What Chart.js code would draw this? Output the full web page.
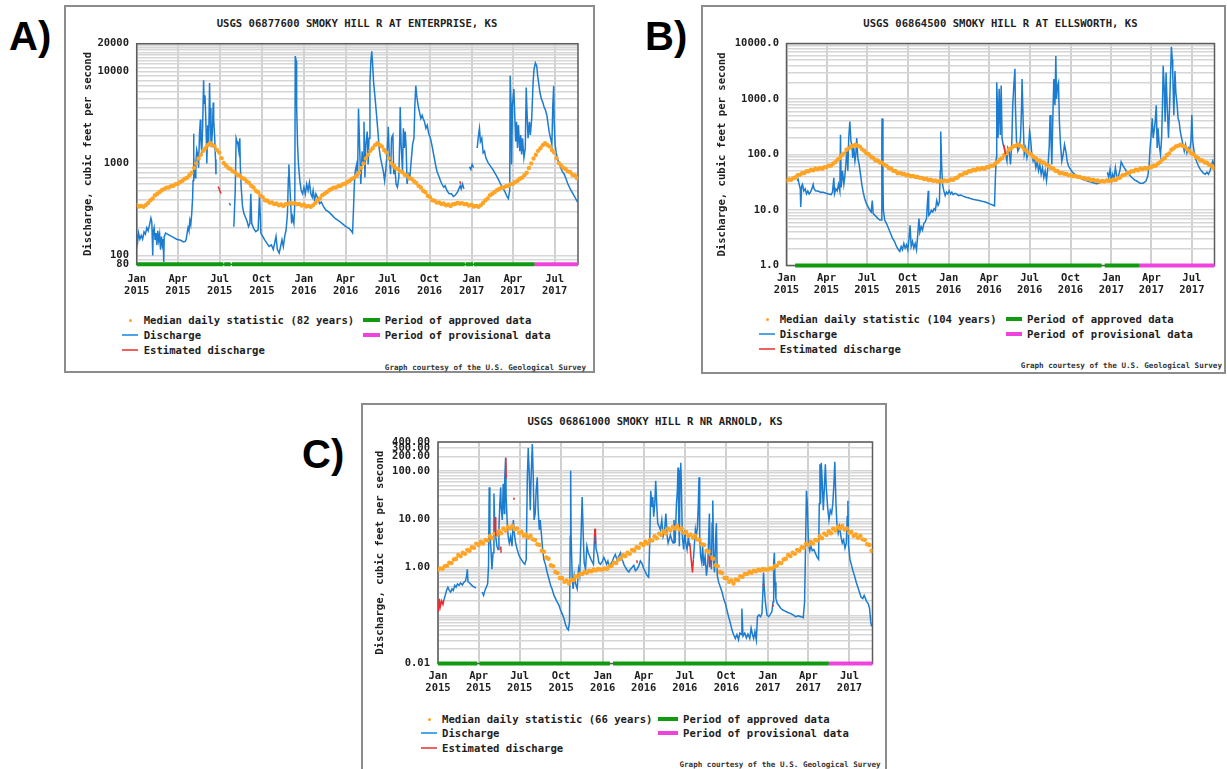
<!DOCTYPE html>
<html>
<head>
<meta charset="utf-8">
<title>Smoky Hill River discharge</title>
<script src="https://cdn.jsdelivr.net/npm/chart.js@4.4.1/dist/chart.umd.min.js"></script>
<style>
  body { margin: 0; background: #fff; }
  #page { position: relative; width: 1227px; height: 769px; overflow: hidden; background: #fff; }
  .box { position: absolute; border: 2px solid #8c8c8c; box-sizing: border-box; }
  .tag { position: absolute; font: bold 40px 'Liberation Sans', Arial, sans-serif; line-height: 40px; color: #000; }
  .txt { position: absolute; font: bold 10.6px 'DejaVu Sans Mono', monospace; line-height: 12px; white-space: nowrap; color: #1e1e1e; }
  .credit { position: absolute; font: bold 7.6px 'DejaVu Sans Mono', monospace; line-height: 9px; white-space: nowrap; color: #333; }
  .mark { position: absolute; }
  canvas { position: absolute; }
</style>
</head>
<body>
<div id="page"></div>
<script>
'use strict'

// x values are days counted from 1 Jan 2015
const quarterDays = [0, 90, 181, 273, 365, 456, 547, 639, 731, 821, 912];
const quarterMonths = ['Jan', 'Apr', 'Jul', 'Oct', 'Jan', 'Apr', 'Jul', 'Oct', 'Jan', 'Apr', 'Jul'];
const quarterYears = ['2015', '2015', '2015', '2015', '2016', '2016', '2016', '2016', '2017', '2017', '2017'];
const yearStartDays = [0, 365, 731];
const lastDay = 963;
const medianStepDays = 5;

// ---- 06877600 Smoky Hill R at Enterprise ----
const enterpriseTicks = [80, 100, 1000, 10000, 20000];
const enterpriseTickLabels = ['80', '100', '1000', '10000', '20000'];
const enterpriseFlow = [[0,170],[2,140],[4,175],[7,150],[10,165],[13,150],[16,180],[19,170],[22,200],[25,185],[28,215],[31,255],[33,230],[34,150],[35,100],[36,180],[38,200],[40,150],[42,175],[44,130],[46,185],[48,145],[50,170],[52,115],[54,160],[56,130],[58,150],[59,85],[60,160],[63,175],[67,170],[72,165],[77,160],[82,155],[87,150],[92,148],[97,145],[102,140],[106,142],[108,150],[110,175],[112,200],[114,185],[116,240],[118,215],[120,280],[122,420],[123,650],[124,2100],[125,1200],[126,800],[128,700],[129,1000],[131,1400],[133,1250],[135,900],[137,2100],[139,3000],[140,1800],[142,1300],[144,2600],[146,8000],[147,4500],[149,5500],[151,2800],[152,1800],[153,1000],[155,2600],[157,1600],[159,7500],[160,4000],[162,1800],[163,1500],[165,2200],[167,4600],[168,3000],[170,2000],[172,1100],[173,760],[174,null],
  [202,370],[205,350],[206,null],
  [212,205],[215,507],[217,1880],[219,1730],[221,1600],[223,1356],[225,1880],[226,975],[228,550],[231,336],[234,285],[237,263],[241,233],[244,205],[247,223],[249,467],[251,223],[255,197],[260,181],[265,189],[268,467],[271,174],[275,161],[279,148],[284,136],[289,125],[294,130],[298,116],[301,136],[304,161],[307,116],[311,106],[314,125],[317,148],[320,125],[323,161],[326,189],[329,285],[331,703],[332,975],[335,467],[338,223],[340,263],[343,223],[345,365],[346,14700],[348,13000],[349,4280],[351,1600],[353,975],[356,648],[359,507],[362,467],[365,550],[368,467],[371,597],[374,507],[377,620],[380,467],[383,430],[385,507],[388,396],[391,467],[394,430],[399,365],[403,380],[408,336],[413,310],[419,297],[426,274],[433,252],[441,238],[448,223],[455,208],[463,197],[468,186],[471,176],[473,310],[475,597],[477,828],[480,975],[482,703],[484,3940],[487,1250],[489,597],[492,1356],[494,975],[496,2840],[498,703],[500,1600],[503,2220],[505,975],[507,1880],[509,7600],[511,13000],[513,16500],[515,11500],[517,7600],[521,4640],[524,3080],[527,2040],[529,1470],[532,1150],[535,975],[538,828],[541,648],[544,899],[547,1470],[549,2500],[551,1250],[554,763],[556,1880],[559,2040],[561,763],[563,975],[566,597],[569,550],[572,703],[574,1880],[575,4100],[577,1600],[580,828],[582,2410],[584,1470],[586,2220],[588,1470],[590,597],[593,763],[596,703],[599,1060],[602,1600],[605,1880],[607,4280],[609,7000],[611,5470],[614,4280],[617,3640],[620,3080],[623,3340],[625,3080],[628,2840],[631,2410],[634,2610],[637,2130],[641,1880],[644,1600],[648,1250],[652,975],[655,828],[659,733],[663,648],[666,597],[670,550],[673,573],[677,507],[682,467],[687,467],[691,437],[695,450],[700,487],[703,528],[706,573],[708,528],[711,597],[714,528],[716,null],
  [726,920],[729,860],[732,975],[735,899],[737,null],
  [743,1470],[746,2040],[748,2410],[750,1730],[753,1880],[756,1300],[759,1356],[762,1150],[767,1015],[772,935],[777,862],[783,763],[789,675],[794,597],[800,528],[804,487],[808,437],[811,413],[814,507],[815,8950],[817,4280],[818,975],[820,4280],[823,6440],[825,3340],[827,1730],[829,2840],[831,1470],[833,2610],[836,1356],[838,2040],[840,1250],[842,1880],[845,1150],[848,1470],[850,6700],[852,3340],[854,1880],[857,2840],[859,2040],[862,3080],[865,7600],[867,10500],[870,12400],[873,11500],[875,8950],[877,7600],[880,5900],[883,5040],[886,4640],[889,4100],[892,3800],[895,3340],[897,2840],[900,2220],[903,1880],[906,1600],[908,4280],[910,7000],[911,2840],[913,1600],[916,1250],[920,1060],[924,935],[928,828],[933,763],[937,675],[941,597],[946,528],[950,487],[954,450],[958,413],[962,380]];
const enterpriseEstimated = [[178,560],[181,510],[184,470],[185,null],[705,640],[707,600]];
// median daily statistic, every 5th day of the year
const enterpriseMedian = [355,340,345,338,352,372,398,415,452,468,488,510,528,545,548,566,572,596,600,628,648,680,700,745,790,890,1000,1130,1240,1370,1460,1580,1660,1590,1530,1400,1310,1140,1010,950,890,870,820,800,750,740,690,680,640,615,570,548,505,485,445,430,398,392,375,376,362,366,350,358,345,360,362,372,366,370,360,362,348];
const enterpriseApproved = [[0,189],[191,205],[208,716],[718,734],[736,868]];
const enterpriseProvisional = [[868,963]];

// ---- 06864500 Smoky Hill R at Ellsworth ----
const ellsworthTicks = [1, 10, 100, 1000, 10000];
const ellsworthTickLabels = ['1.0', '10.0', '100.0', '1000.0', '10000.0'];
const ellsworthFlow = [[24,33.6],[26,36],[28.5,29],[31,24],[32,11.3],[34,27],[36,29],[39,22],[42,24],[45,19.5],[48,22],[51,19.5],[54,21],[57,24],[60,29],[62,24],[66,22],[71,22],[76.5,21],[82.5,21],[88.5,20],[94.5,19.5],[100.5,19],[103.5,21],[106.5,38],[108,19.5],[111,24],[114,22],[117,29],[120,22],[121.5,226],[123,25.6],[126,51],[129,29],[131,38.5],[133.5,66],[136,131],[138,51],[140,198],[142.5,391],[145,173],[147,151],[149,87],[151.5,131],[154,76],[156,100],[158,198],[160.5,87],[163.5,66],[166.5,44],[169.5,29],[172.5,21],[176,16],[180,12.9],[184,11.3],[187.5,9.9],[190.5,9.2],[193,14.8],[195,8.6],[199,8],[202.5,7.5],[206,7],[210,6.6],[213,6.6],[214.5,198],[215,448],[217,38],[218,9.9],[221,6.6],[225,5.7],[229.5,4.7],[234,3.8],[238.5,3.1],[243,2.7],[247.5,2.2],[252,1.92],[255,1.8],[258,2.2],[261,1.92],[264,2.5],[267,2.06],[270,2.36],[273,1.92],[276,3.3],[278,5.3],[280.5,2.2],[283.5,2.7],[286.5,2.06],[289.5,2.5],[292.5,1.92],[295.5,3.8],[298,7],[300,4],[303,5],[306,4.35],[309,5.7],[312,6.1],[315,7],[317,12.9],[319,22.3],[320,8],[323,8.6],[326,9.9],[329,9.2],[332,10.6],[335,9.9],[338,14.8],[341,12.1],[344,13.9],[346,51],[347,260],[349,66],[351,29],[354,22.3],[357,18.2],[360,21],[363,19.5],[366,22.3],[369,19.5],[372,21],[375,19],[379,20],[382.5,19.5],[387,18.2],[391.5,18.6],[397.5,17.8],[403.5,17],[409.5,16.6],[415.5,15.9],[421.5,15.5],[427.5,15.2],[433.5,14.8],[439.5,14.4],[445.5,14.1],[451.5,13.5],[457.5,12.9],[463.5,12.3],[468,11.9],[470,38.5],[472,87],[473,2000],[475,590],[476,198],[478.5,1525],[481,226],[483,1750],[485,198],[487.5,151],[490,131],[493,100],[496,76],[498,131],[501,115],[504,66],[507,173],[509,773],[511.5,1750],[514,3500],[515,773],[517.5,173],[520.5,115],[523.5,131],[526.5,198],[529,773],[530,2300],[532.5,391],[535,100],[538,131],[541,87],[544,115],[547,260],[549,198],[552,100],[555,76],[558,87],[561,58],[564,76],[567,51],[570,66],[573,44],[576,58],[579,38.5],[582,51],[585,33.6],[588,58],[591,131],[593,513],[595,198],[597,66],[599,391],[601.5,2300],[604,773],[606,5960],[607.5,1000],[610,1750],[612,2000],[614,391],[616.5,151],[619.5,76],[622.5,100],[625.5,151],[628.5,115],[631.5,76],[634.5,62],[639,54],[643.5,48],[649.5,43],[655.5,39.5],[661.5,37.5],[667.5,35.5],[675,33.6],[682.5,32.3],[690,31],[697.5,29.7],[705,30.5],[708,null],
  [722,48],[725,38.5],[728,54],[731,33.6],[734,44],[737,36],[740,58],[743,41],[746,38.5],[750,51],[753,74],[756,66],[760.5,57],[765,50],[771,43],[777,38.5],[783,35],[789,33],[795,30.5],[802.5,30.5],[808.5,33],[813,41],[816,66],[818,131],[820.5,226],[823,448],[825,198],[827,260],[829.5,391],[832,773],[834,131],[836,297],[838.5,151],[841.5,100],[844,198],[846,773],[847.5,3960],[850,1525],[852,391],[854,3010],[856.5,773],[859.5,198],[862,773],[864,2630],[866,8700],[868,5200],[869,3010],[871.5,513],[874,3200],[876,1330],[879,773],[881,448],[883.5,391],[886,260],[889,198],[892,151],[895,115],[898,151],[901,107],[904,131],[907,115],[910,173],[912,513],[914,173],[917,115],[920,87],[923,74],[927,62],[931,54],[934.5,50],[938,46],[942,44],[946,48],[949.5,44],[953,51],[956,62],[959,76],[962,66]];
const ellsworthEstimated = [[489,150],[491,120],[493,100]];
const ellsworthMedian = [33.6,35.5,35,37.5,38.5,42.5,43,46,46.5,50,50,53,52,56,54,57,55.5,59,59,63,63,69,73,81,86,98,105,122,129,140,143,150,144,139,124,117,105,101,91,87,79,78,72,71,65,63,57,56,51,50.5,46,46.5,45,44.5,42,42.5,40.5,41,39.5,39.5,38,38,36,36.5,34.5,35,33.5,34,32.5,33.5,32.5,34,33.5];
const ellsworthApproved = [[19.5,709],[716,793.5]];
const ellsworthProvisional = [[793.5,963]];

// ---- 06861000 Smoky Hill R nr Arnold ----
const arnoldTicks = [0.01, 1, 10, 100, 200, 300, 400];
const arnoldTickLabels = ['0.01', '1.00', '10.00', '100.00', '200.00', '300.00', '400.00'];
const arnoldFlow = [[13,0.21],[16,0.26],[19,0.33],[22,0.385],[25,0.33],[28,0.305],[31,0.356],[34,0.33],[37,0.42],[40,0.385],[43,0.45],[46.5,0.42],[50,0.47],[54,0.43],[57.5,0.49],[61,0.52],[63.5,0.67],[65,0.91],[66.5,0.5],[70,0.47],[74,0.43],[77.5,0.4],[81,0.385],[84,0.37],[86,null],
  [98,0.305],[101,0.26],[104,0.33],[107,0.385],[110,0.45],[112,1.07],[113.5,46],[115,4.4],[117,2.74],[119.5,0.91],[122,2],[124,34],[126,6],[128,4.4],[130.5,2.74],[133,2.34],[135,6],[137,21],[139,46],[140,18],[142.5,9.6],[144.5,54],[147,13.1],[148,74],[150,188],[151,28.7],[153.5,8.2],[155.5,4.4],[158,3.2],[161,4.4],[164,2.74],[167,9.6],[169,5.1],[172,3.2],[175.5,2.34],[180,1.71],[184.5,1.46],[189,1.25],[192.5,1.15],[195.5,1.46],[198,74],[200,302],[202,101],[204.5,15.4],[206.5,85],[209,364],[211,85],[213,9.6],[215.5,13.1],[217.5,39],[220,74],[222,15.4],[224.5,6],[226.5,9.6],[229,5.1],[232,2.34],[234.5,1.46],[238,1.15],[242,0.78],[246,0.57],[249.5,0.42],[253,0.35],[257,0.26],[260.5,0.223],[264,0.19],[268,0.163],[271.5,0.129],[275,0.11],[279,0.087],[282.5,0.065],[286,0.054],[289,0.05],[291.5,0.074],[293,4.4],[294,101],[295,4.4],[297.5,0.57],[299.5,0.356],[302,0.67],[305,0.45],[308.5,0.356],[311.5,0.91],[314,0.67],[317,4.4],[319.5,28.7],[322,4.4],[324,1.25],[327,0.91],[330,2.74],[333,2],[336,1.71],[339,1.46],[341.5,1.3],[344.5,1.15],[347,4.4],[348,6.3],[350.5,2.34],[353.5,1.9],[356.5,1.25],[360,1.15],[364,1.3],[367.5,1.6],[370.5,1.4],[373.5,1.15],[376.5,1.35],[379,1.07],[382,1.15],[386,1.3],[389.5,1.6],[393,1.85],[397,1.4],[401,1.71],[404.5,2],[408,1.46],[412,1.15],[415.5,0.99],[419,0.88],[423,0.8],[426.5,0.91],[430,0.99],[434,1.1],[437.5,0.85],[441,0.91],[445,1.07],[448.5,1.35],[452,1.2],[456,0.94],[460,0.78],[463.5,0.67],[467,0.62],[469,2.74],[471.5,39],[474,18],[476,28.7],[478,11.2],[480.5,21],[482.5,63],[485,18],[487,8.2],[490,7],[493,6],[496,9.6],[499,4.4],[502,5.5],[505,13.1],[508,4.4],[510,3.2],[512,3.7],[515,4.7],[518,3.7],[521,3.2],[523,9.6],[525.5,3.2],[528.5,21],[530.5,39],[532,118],[533.5,11.2],[535,2.74],[536.5,101],[538,149],[539.5,46],[541.5,4.4],[544.5,2.34],[547,6],[549,3.2],[552,2.34],[555,4.4],[557,2.74],[558,null],
  [566,1.46],[568,2.74],[570.5,6],[572.5,4.4],[575,7],[577,21],[578.5,74],[580,4.4],[582,1.71],[584.5,1.25],[586.5,2.74],[589,1.07],[592,1.71],[595,0.67],[598,1.25],[600,4.4],[601.5,13.1],[603.5,1.46],[606,0.91],[607.5,8.2],[609,24.5],[611,1.25],[613,0.78],[615.5,4.4],[617,8.2],[619,0.67],[622,0.49],[626,0.385],[629.5,0.305],[633,0.223],[637,0.176],[640.5,0.129],[644,0.094],[648,0.069],[651.5,0.05],[655,0.04],[659,0.033],[662.5,0.04],[666,0.031],[669,0.043],[672,0.04],[673.5,0.139],[676,0.037],[680,0.043],[683.5,0.034],[687,0.041],[691,0.033],[694,0.054],[697,0.04],[699.5,0.033],[702.5,0.046],[705.5,0.031],[708,0.094],[711.5,0.102],[715,0.094],[718,0.11],[720,0.305],[721.5,0.78],[723,0.385],[725.5,0.19],[729,0.102],[733,0.094],[736.5,0.105],[740,0.119],[742.5,0.19],[744,1.25],[745.5,2],[747,0.49],[749,0.223],[752,0.176],[755.5,0.16],[760,0.139],[764.5,0.129],[769.5,0.123],[775,0.115],[781,0.11],[787,0.102],[792.5,0.094],[798.5,0.098],[804.5,0.094],[809.5,0.09],[812.5,0.19],[815,4.4],[816.5,39],[818.5,21],[821,3.2],[824,2.2],[826.5,2.74],[829.5,2.2],[833,2.34],[837,1.9],[840.5,1.6],[843.5,1.46],[845,21],[846.5,138],[848,21],[849.5,149],[851.5,63],[854,15.4],[856,39],[858.5,138],[860.5,46],[863.5,18],[866.5,9.6],[869.5,15.4],[872.5,13.1],[875,21],[877.5,54],[879.5,155],[882,21],[884,8.2],[887,5.1],[890,7],[893,4.4],[896,3.2],[899,3.7],[902,2.5],[905,3.2],[907,11.2],[908.5,24],[910,2.74],[913,1.46],[916,1.15],[919.5,0.85],[923,0.67],[927,0.49],[930.5,0.385],[934,0.305],[937.5,0.24],[941.5,0.223],[944.5,0.26],[947.5,0.223],[950.5,0.19],[953.5,0.176],[956.5,0.139],[959,0.074],[961,0.059]];
const arnoldEstimated = [[1,0.12],[3,0.22],[5,0.15],[8,0.2],[11,0.17],[13,0.21],[14,null],[126,6],[127,11],[128,4.4],[129,null],[139,2.7],[140,2],[141,null],[149,120],[150,188],[151,70],[152,null],[168,28],[169,25],[170,null],[347,4.4],[348,6.3],[349,3],[350,null],[440,1.25],[441,1.4],[442,null],[557,2.74],[558,3.2],[560,1.9],[562,1.2],[564,0.78],[566,1.46],[567,null],[601,1.71],[602,1],[603,null],[721,0.45],[722,0.4],[723,null],[742,0.15],[743,0.17]];
const arnoldMedian = [0.9,0.95,0.93,1.05,1.08,1.25,1.22,1.45,1.5,1.8,1.7,2.0,1.9,2.3,2.2,2.6,2.55,3.1,2.9,3.4,3.1,3.7,3.6,4.4,4.0,5.0,4.7,5.6,5.1,6.3,5.8,6.9,6.4,7.2,6.1,6.4,5.2,5.4,4.5,4.8,4.1,4.5,3.8,3.7,3.0,2.9,2.2,2.1,1.6,1.5,1.1,1.05,0.8,0.76,0.6,0.6,0.5,0.53,0.46,0.55,0.54,0.65,0.63,0.73,0.72,0.8,0.77,0.85,0.82,0.89,0.86,0.92,0.9];
const arnoldApproved = [[0,87],[92,381],[388,866]];
const arnoldProvisional = [[866,963]];

const colors = {
  flow: '#1c7ccf', estimated: '#ec2b2b', median: '#ffa424',
  approved: '#109a10', provisional: '#ee44dd', text: '#1e1e1e'
};
const monoFont = "'DejaVu Sans Mono', monospace";

const panels = [
  {
    tag: 'A)', tagAt: [9, 16],
    title: 'USGS 06877600 SMOKY HILL R AT ENTERPRISE, KS', years: 82,
    flow: enterpriseFlow, estimated: enterpriseEstimated, median: enterpriseMedian,
    approved: enterpriseApproved, provisional: enterpriseProvisional,
    yMin: 80, yMax: 20000, fineTop: true, ticks: enterpriseTicks, tickLabels: enterpriseTickLabels,
    box: [64, 5, 531, 368], titleAt: [357, 23],
    canvas: [64, 30, 531, 275], pad: { left: 10, right: 17, top: 10, bottom: 4.7 },
    yWidth: 62.7, yTickPad: 7.7, yTitlePad: 7.6, xTickPad: 8.9,
    legendRows: [320, 335, 350], dotX: 130, lineX: [122, 138], textX: 143.7,
    barX: [363, 380], text2X: 384.7, creditAt: [586, 367.8]
  },
  {
    tag: 'B)', tagAt: [645, 16],
    title: 'USGS 06864500 SMOKY HILL R AT ELLSWORTH, KS', years: 104,
    flow: ellsworthFlow, estimated: ellsworthEstimated, median: ellsworthMedian,
    approved: ellsworthApproved, provisional: ellsworthProvisional,
    yMin: 1, yMax: 10000, fineTop: false, ticks: ellsworthTicks, tickLabels: ellsworthTickLabels,
    box: [701, 5, 525, 369], titleAt: [1000.5, 23],
    canvas: [701, 30, 525, 275], pad: { left: 8, right: 11.5, top: 10, bottom: 3.5 },
    yWidth: 77.5, yTickPad: 7.5, yTitlePad: 7.1, xTickPad: 7,
    legendRows: [319, 334, 349], dotX: 767, lineX: [759, 775], textX: 779.7,
    barX: [1006, 1022], text2X: 1027, creditAt: [1222, 365]
  },
  {
    tag: 'C)', tagAt: [302, 434],
    title: 'USGS 06861000 SMOKY HILL R NR ARNOLD, KS', years: 66,
    flow: arnoldFlow, estimated: arnoldEstimated, median: arnoldMedian,
    approved: arnoldApproved, provisional: arnoldProvisional,
    yMin: 0.01, yMax: 400, fineTop: false, ticks: arnoldTicks, tickLabels: arnoldTickLabels,
    box: [361, 403, 526, 380], titleAt: [655, 421],
    canvas: [361, 428, 525, 280], pad: { left: 6, right: 13.5, top: 10, bottom: 8.5 },
    yWidth: 71, yTickPad: 8, yTitlePad: 7.3, xTickPad: 7,
    legendRows: [719, 733, 748], dotX: 429, lineX: [421, 437], textX: 442,
    barX: [658, 678], text2X: 683, creditAt: [880.6, 764.9]
  }
];

const page = document.getElementById('page');

function addDiv(cls, left, top, text) {
  const d = document.createElement('div');
  d.className = cls;
  d.style.left = left + 'px';
  d.style.top = top + 'px';
  if (text !== undefined) d.textContent = text;
  page.appendChild(d);
  return d;
}

function addMark(left, top, width, height, color, round) {
  const d = addDiv('mark', left, top);
  d.style.width = width + 'px';
  d.style.height = height + 'px';
  d.style.background = color;
  if (round) d.style.borderRadius = '50%';
  return d;
}

function toPoints(pairs) {
  return pairs.map(([x, y]) => ({ x, y }));
}

// the median statistic is per calendar day, so it repeats each year
function medianPoints(values) {
  const pts = [];
  yearStartDays.forEach(start => {
    values.forEach((v, i) => {
      const day = start + i * medianStepDays;
      if (day <= lastDay) pts.push({ x: day, y: v });
    });
  });
  return pts;
}

function spanPoints(spans, y) {
  const pts = [];
  spans.forEach(([a, b]) => { pts.push({ x: a, y }, { x: b, y }, { x: b, y: null }); });
  return pts;
}

function logGrid(min, max, fineTop) {
  const vals = [];
  for (let n = -3; n <= 5; n++) {
    for (let k = 1; k <= 9; k++) {
      const v = Number((k * Math.pow(10, n)).toPrecision(6));
      if (v >= min && v <= max) vals.push(v);
    }
  }
  if (fineTop) {
    for (let k = 11; k <= 19; k++) vals.push(k * 1000);
  }
  return vals;
}

const plotFrame = {
  id: 'plotFrame',
  beforeDatasetsDraw(chart) {
    const { ctx, chartArea: a } = chart;
    ctx.save();
    ctx.strokeStyle = '#5c5c5c';
    ctx.lineWidth = 1.5;
    ctx.strokeRect(a.left, a.top, a.right - a.left, a.bottom - a.top);
    ctx.restore();
  }
};

function buildPanel(p) {
  const box = addDiv('box', p.box[0], p.box[1]);
  box.style.width = p.box[2] + 'px';
  box.style.height = p.box[3] + 'px';

  addDiv('tag', p.tagAt[0], p.tagAt[1], p.tag);

  const title = addDiv('txt', p.titleAt[0] - 300, p.titleAt[1] - 6, p.title);
  title.style.width = '600px';
  title.style.textAlign = 'center';

  const canvas = document.createElement('canvas');
  canvas.width = p.canvas[2];
  canvas.height = p.canvas[3];
  canvas.style.left = p.canvas[0] + 'px';
  canvas.style.top = p.canvas[1] + 'px';
  page.appendChild(canvas);

  const tickFont = { family: monoFont, size: 10.5, weight: 'bold', lineHeight: 1.15 };
  const grid = logGrid(p.yMin, p.yMax, p.fineTop);

  new Chart(canvas, {
    type: 'line',
    data: {
      datasets: [
        { data: spanPoints(p.approved, p.yMin), borderColor: colors.approved, borderWidth: 4, pointRadius: 0, clip: false },
        { data: spanPoints(p.provisional, p.yMin), borderColor: colors.provisional, borderWidth: 4, pointRadius: 0, clip: false },
        { data: toPoints(p.estimated), borderColor: colors.estimated, borderWidth: 1.5, pointRadius: 0 },
        { data: medianPoints(p.median), showLine: false, pointRadius: 2.2, pointBackgroundColor: colors.median, pointBorderWidth: 0 },
        { data: toPoints(p.flow), borderColor: colors.flow, borderWidth: 1.5, pointRadius: 0 }
      ]
    },
    options: {
      responsive: false,
      animation: false,
      events: [],
      layout: { padding: p.pad },
      plugins: { legend: { display: false }, tooltip: { enabled: false } },
      scales: {
        x: {
          type: 'linear', min: 0, max: lastDay,
          afterBuildTicks: s => { s.ticks = quarterDays.map(v => ({ value: v })); },
          afterFit: s => { s.height = 36; },
          grid: { color: '#d0d0d0', lineWidth: 2, drawTicks: false },
          border: { display: false },
          ticks: {
            autoSkip: false, maxRotation: 0, padding: p.xTickPad, color: colors.text, font: tickFont,
            callback: v => {
              const i = quarterDays.indexOf(v);
              return [quarterMonths[i], quarterYears[i]];
            }
          }
        },
        y: {
          type: 'logarithmic', min: p.yMin, max: p.yMax,
          afterBuildTicks: s => { s.ticks = grid.map(v => ({ value: v })); },
          afterFit: s => { s.width = p.yWidth; },
          grid: { color: '#d6d6d6', lineWidth: 1.5, drawTicks: false },
          border: { display: false },
          ticks: {
            autoSkip: false, padding: p.yTickPad, color: colors.text, font: tickFont,
            callback: v => {
              const i = p.ticks.findIndex(t => Math.abs(t - v) / t < 1e-6);
              return i < 0 ? '' : p.tickLabels[i];
            }
          },
          title: {
            display: true, text: 'Discharge, cubic feet per second', color: colors.text,
            font: { family: monoFont, size: 10.6, weight: 'bold' },
            padding: { top: p.yTitlePad, bottom: 0 }
          }
        }
      }
    },
    plugins: [plotFrame]
  });

  // legend, two columns under the plot
  const [r0, r1, r2] = p.legendRows;
  addMark(p.dotX - 1.5, r0 - 1.5, 3, 3, colors.median, true);
  addDiv('txt', p.textX, r0 - 6, 'Median daily statistic (' + p.years + ' years)');
  addMark(p.lineX[0], r1 - 1, p.lineX[1] - p.lineX[0], 2, '#4ea4e6');
  addDiv('txt', p.textX, r1 - 6, 'Discharge');
  addMark(p.lineX[0], r2 - 1, p.lineX[1] - p.lineX[0], 2, '#f06262');
  addDiv('txt', p.textX, r2 - 6, 'Estimated discharge');
  addMark(p.barX[0], r0 - 2, p.barX[1] - p.barX[0], 4, colors.approved);
  addDiv('txt', p.text2X, r0 - 6, 'Period of approved data');
  addMark(p.barX[0], r1 - 2, p.barX[1] - p.barX[0], 4, colors.provisional);
  addDiv('txt', p.text2X, r1 - 6, 'Period of provisional data');

  const credit = addDiv('credit', 0, p.creditAt[1] - 4.5, 'Graph courtesy of the U.S. Geological Survey');
  credit.style.left = 'auto';
  credit.style.right = (1227 - p.creditAt[0]) + 'px';
}

panels.forEach(buildPanel);
</script>
</body>
</html>
